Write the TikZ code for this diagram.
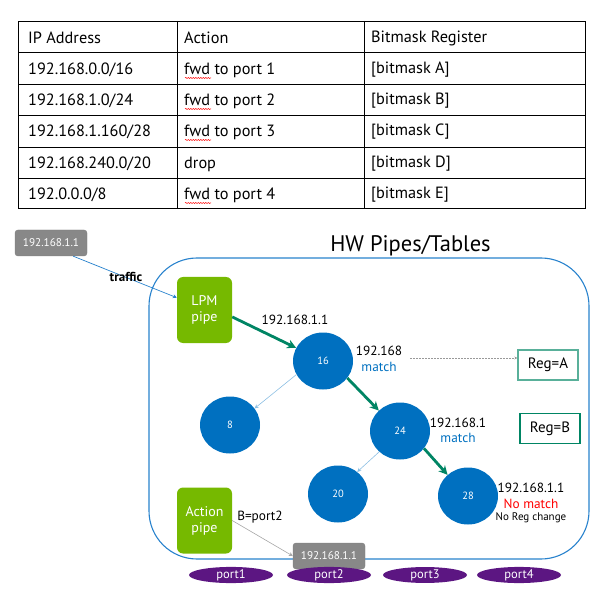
\documentclass[tikz,border=0pt]{standalone}
\usepackage{fontspec}
\setmainfont{PT Sans}
\usetikzlibrary{arrows.meta,decorations.pathmorphing,shapes.geometric}
\definecolor{hwblue}{RGB}{0,112,192}
\definecolor{shellblue}{RGB}{40,130,205}
\definecolor{pipegreen}{RGB}{118,185,0}
\definecolor{pathgreen}{RGB}{0,133,100}
\definecolor{pktgray}{RGB}{136,136,136}
\definecolor{portpurple}{RGB}{92,22,130}
\begin{document}
\begin{tikzpicture}[x=1pt,y=-1pt,
cell/.style={anchor=west,inner sep=0pt,font=\fontsize{16.3}{18}\selectfont},
spell/.style={red,line width=0.5pt,decorate,decoration={snake,amplitude=0.6pt,segment length=2.5pt}},
pipeblock/.style={rectangle,rounded corners=6pt,fill=pipegreen,text=white,minimum width=55pt,minimum height=66pt,align=center,font=\fontsize{14}{16}\selectfont},
pktblock/.style={rectangle,rounded corners=3pt,fill=pktgray,draw=gray,text=white,minimum width=72pt,minimum height=26pt,font=\fontsize{11.2}{12}\selectfont},
tablenode/.style={ellipse,fill=hwblue,text=white,minimum width=60pt,minimum height=57pt,inner sep=0pt,font=\fontsize{10.5}{12}\selectfont},
regblock/.style={rectangle,draw=pathgreen,fill=white,text=black,minimum width=60pt,minimum height=30pt,inner sep=0pt,font=\fontsize{15}{16}\selectfont},
portlabel/.style={ellipse,fill=portpurple,text=white,minimum width=84pt,minimum height=13pt,inner sep=0pt,font=\fontsize{12.5}{12}\selectfont},
iplabel/.style={inner sep=0pt,font=\fontsize{13.3}{14}\selectfont},
hitpath/.style={-{Stealth[length=9pt,width=9pt]},pathgreen,line width=2.8pt},
missedge/.style={-{Stealth[length=4pt,width=4pt]},hwblue!45,line width=0.6pt}]
\useasboundingbox (0,0) rectangle (600,596);

% rule table on top
\draw[line width=0.8pt] (18,21) rectangle (585,208);
\foreach \y in {52,84,115,147,178} \draw[line width=0.7pt] (18,\y) -- (585,\y);
\foreach \x in {177,364} \draw[line width=0.7pt] (\x,21) -- (\x,208);
\foreach \y/\ip/\act/\reg [count=\r] in {38/IP Address/Action/Bitmask Register,
  70/192.168.0.0\slash 16/fwd to port 1/[bitmask A],
  101/192.168.1.0\slash 24/fwd to port 2/[bitmask B],
  132/192.168.1.160\slash 28/fwd to port 3/[bitmask C],
  164/192.168.240.0\slash 20/drop/[bitmask D],
  195/192.0.0.0\slash 8/fwd to port 4/[bitmask E]} {
  \node[cell] (ip\r) at (28,\y) {\ip};
  \node[cell] (act\r) at (184,\y) {\act};
  \node[cell] (reg\r) at (371,\y) {\reg};
}
\foreach \y in {78,109,140,203} \draw[spell] (185,\y) -- (211,\y);

% hardware block
\node[font=\fontsize{22.5}{24}\selectfont] (title) at (410.5,246) {HW Pipes/Tables};
\draw[shellblue,line width=1.1pt,rounded corners=48pt] (149,258) rectangle (589,559);

\node[pktblock] (pktin) at (51,243) {192.168.1.1};
\node[pipeblock] (lpm) at (204.5,310) {LPM\\pipe};
\node[pipeblock] (action) at (204.5,520.5) {Action\\pipe};
\node[tablenode] (t16) at (323,361) {16};
\node[tablenode] (t8) at (230,425) {8};
\node[tablenode] (t24) at (400,431) {24};
\node[tablenode] (t20) at (338,494) {20};
\node[tablenode] (t28) at (468,496) {28};
\node[regblock,draw=pathgreen!65,line width=1.2pt] (rega) at (548,365) {Reg=A};
\node[regblock,line width=1.5pt] (regb) at (550,428.5) {Reg=B};
\node[pktblock] (pktout) at (329,556) {192.168.1.1};

\foreach \x/\n in {231/1,329/2,425/3,519/4}
  \node[portlabel] (port\n) at (\x,575) {port\n};

\draw[-{Stealth[length=4pt,width=4pt]},shellblue,line width=0.7pt] (pktin.south east) ++(-14,0) -- (lpm.156);
\node[iplabel,font=\fontsize{13}{14}\selectfont\bfseries] (traffic) at (126,277) {traffic};
\draw[hitpath] (lpm.-14) -- (t16.154);
\draw[hitpath] (t16.-35) -- (t24.136);
\draw[hitpath] (t24.-36) -- (t28.134);
\draw[missedge] (t16.-153) -- (t8.34);
\draw[missedge] (t24.-135) -- (t20.49);
\draw[-{Stealth[length=3pt,width=3pt]},gray!80,dash pattern=on 2pt off 1pt,line width=0.4pt] (410,358) -- (rega.west |- 0,358);
\draw[-{Stealth[length=4pt,width=4pt]},gray!70,line width=0.6pt] (action.east) -- (pktout.west);

\node[iplabel] (ipa) at (295,320) {192.168.1.1};
\node[iplabel] (ipb) at (379,351) {192.168};
\node[iplabel,text=hwblue] (ma) at (379,367) {match};
\node[iplabel] (ipc) at (458,423) {192.168.1};
\node[iplabel,text=hwblue] (mb) at (458,438) {match};
\node[iplabel] (ipd) at (531,488) {192.168.1.1};
\node[iplabel,text=red] (nomatch) at (531,504) {No match};
\node[iplabel,font=\fontsize{11}{12}\selectfont] (noreg) at (531,518) {No Reg change};
\node[iplabel] (bport) at (260,517) {B=port2};
\end{tikzpicture}
\end{document}
